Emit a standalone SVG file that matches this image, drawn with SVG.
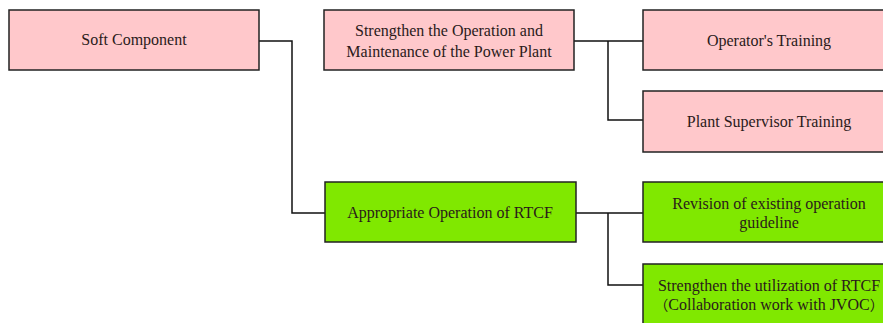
<svg xmlns="http://www.w3.org/2000/svg" width="883" height="323" viewBox="0 0 883 323">
<style>
.pink{fill:#FFC8CB;stroke:#222;stroke-width:1.5}
.green{fill:#80E800;stroke:#222;stroke-width:1.5}
text{font-family:"Liberation Serif","Times New Roman",serif;font-size:16px;fill:#2a1a1a;text-anchor:middle}
.cjk{font-family:"Noto Sans CJK JP",sans-serif;font-size:14px}
.conn{fill:none;stroke:#111;stroke-width:1.5}
</style>
<rect width="883" height="323" fill="#fff"/>
<g id="connectors">
<path class="conn" d="M259,41 H292 V213 H325"/>
<path class="conn" d="M574,41 H643 M608,41 V120 H643"/>
<path class="conn" d="M576,213 H643 M608,213 V285 H643"/>
</g>
<g id="soft-component">
<rect class="pink" x="9" y="10" width="250" height="60"/>
<text x="134" y="45">Soft Component</text>
</g>
<g id="strengthen-om">
<rect class="pink" x="324" y="10" width="250" height="60"/>
<text x="449" y="36">Strengthen the Operation and</text>
<text x="449" y="57">Maintenance of the Power Plant</text>
</g>
<g id="operators-training">
<rect class="pink" x="643" y="10" width="252" height="60"/>
<text x="769" y="46">Operator's Training</text>
</g>
<g id="plant-supervisor">
<rect class="pink" x="643" y="91" width="252" height="61"/>
<text x="769" y="127">Plant Supervisor Training</text>
</g>
<g id="appropriate-rtcf">
<rect class="green" x="325" y="182" width="251" height="60"/>
<text x="450" y="218">Appropriate Operation of RTCF</text>
</g>
<g id="revision">
<rect class="green" x="643" y="182" width="252" height="60"/>
<text x="769" y="209">Revision of existing operation</text>
<text x="769" y="228">guideline</text>
</g>
<g id="utilization">
<rect class="green" x="643" y="264" width="252" height="70"/>
<text x="769" y="291">Strengthen the utilization of RTCF</text>
<text x="769" y="310"><tspan class="cjk">（</tspan>Collaboration work with JVOC<tspan class="cjk">）</tspan></text>
</g>
</svg>
